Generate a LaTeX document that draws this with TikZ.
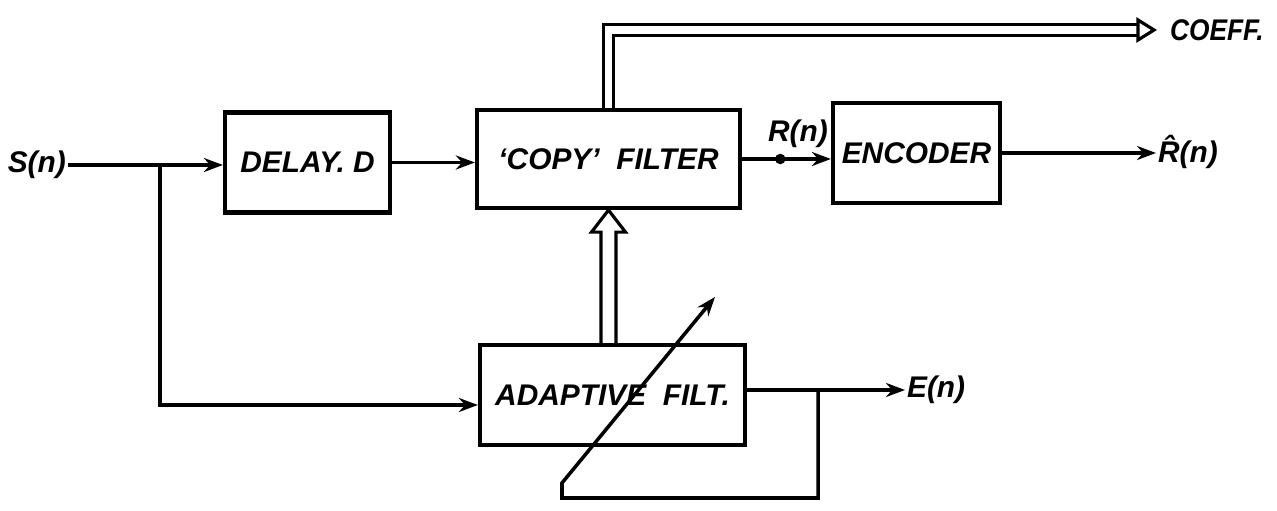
\documentclass[tikz,border=0pt]{standalone}
\usepackage{fontspec}
\setmainfont{Liberation Sans}
\usetikzlibrary{arrows.meta,positioning,calc}

\tikzset{
  block/.style={draw, line width=2.4pt, minimum height=2cm, inner sep=1pt,
                font=\bfseries\itshape\fontsize{17}{20}\selectfont},
  lbl/.style={font=\bfseries\itshape\fontsize{17}{20}\selectfont, inner sep=1pt},
  sig/.style={line width=2pt, line join=miter},
  arr/.style={sig, -{Stealth[length=3.8mm,width=2.8mm]}},
  dbl/.style={line width=1.8pt, double, double distance=4pt, line join=miter},
  dot/.style={circle, fill, inner sep=0pt, minimum size=6pt}
}

\begin{document}
\begin{tikzpicture}
\useasboundingbox (0,0) rectangle (25.54,10.22);

% blocks
\node[block, minimum width=3.3cm] (delay) at (6.15,6.97) {DELAY. D};
\node[block, minimum width=5.26cm, minimum height=1.96cm] (copy) at (12.17,7.04) {\textquoteleft COPY\textquoteright\ \ FILTER};
\node[block, minimum width=3.34cm] (enc) at (18.33,7.16) {ENCODER};
\node[block, minimum width=5.3cm] (adapt) at (12.25,2.32) {ADAPTIVE\ \ FILT.};

% signal labels
\node[lbl, anchor=east] (sn) at (1.36,6.92) {S(n)};
\node[lbl, anchor=west] (rhat) at (23.12,7.18) {\^{R}(n)};
\node[lbl, anchor=west] (en) at (18.1,2.42) {E(n)};
\node[lbl, anchor=west] (coeff) at (23.36,9.62) {\scalebox{0.88}[1]{COEFF.}};

% branch points
\coordinate (split) at (3.2,6.92);
\coordinate (etap) at (16.36,2.42);
\coordinate (fbl) at (11.24,0.26);
\coordinate (fbk) at (11.24,0.56);
\coordinate (tune) at (14.3,4.28);
\coordinate (ctip) at (22.76,9.62);

% forward path
\draw[arr] (sn.east) -- (sn.east -| delay.west);
\draw[arr] (split) |- ($(adapt.west)+(0,-0.2)$);
\draw[arr] (delay.east) -- (delay.east -| copy.west);
\draw[arr] (copy.east) -- (copy.east -| enc.west);
\node[dot] (rtap) at ($(copy.east)!0.43!(copy.east -| enc.west)$) {};
\node[lbl, anchor=south east] (rn) at (16.6,7.22) {R(n)};
\draw[arr] (enc.east) -- (enc.east -| rhat.west);
\draw[arr] ($(adapt.east)+(0,0.1)$) -- (en.west);

% adaptation loop
\draw[arr] (etap) |- (fbl) -- (fbk) -- (tune);

% coefficients
\draw[dbl] (copy.north) |- (ctip);
\draw[line width=1.8pt, fill=white] ($(ctip)+(0,0.2)$) -- ($(ctip)+(0.32,0)$) -- ($(ctip)+(0,-0.2)$) -- cycle;
\draw[line width=1.8pt, line join=miter, fill=white]
  ($(adapt.north -| copy.south)+(-0.15,0)$) -- ($(copy.south)+(-0.15,-0.44)$)
  -- ($(copy.south)+(-0.34,-0.44)$) -- (copy.south) -- ($(copy.south)+(0.34,-0.44)$)
  -- ($(copy.south)+(0.15,-0.44)$) -- ($(adapt.north -| copy.south)+(0.15,0)$);
\end{tikzpicture}
\end{document}
